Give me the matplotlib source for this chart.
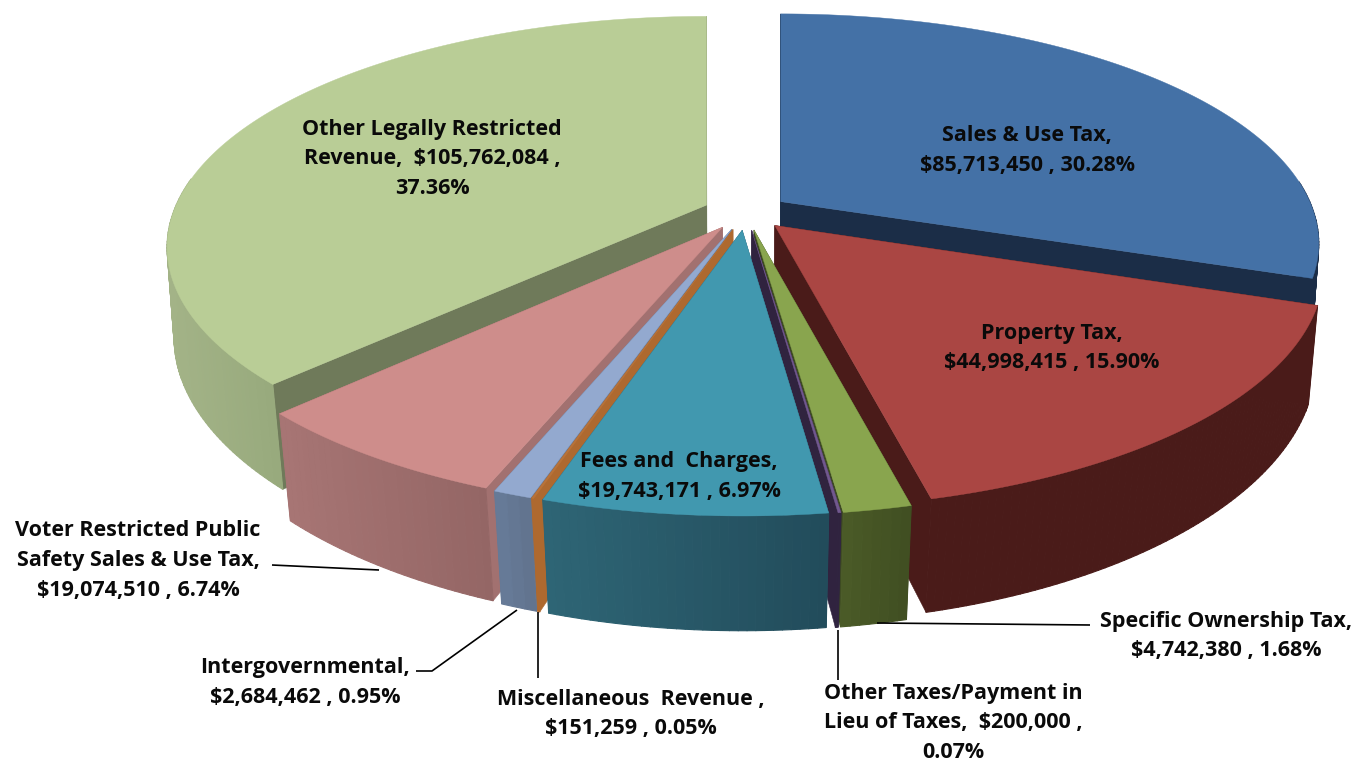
import numpy as np
import matplotlib
matplotlib.use("Agg")
import matplotlib.pyplot as plt
from matplotlib.collections import PolyCollection
from matplotlib.colors import to_rgb

categories = ["Sales & Use Tax", "Property Tax", "Specific Ownership Tax",
              "Other Taxes/Payment in Lieu of Taxes", "Fees and Charges",
              "Miscellaneous Revenue", "Intergovernmental",
              "Voter Restricted Public Safety Sales & Use Tax",
              "Other Legally Restricted Revenue"]
amounts = [85713450, 44998415, 4742380, 200000, 19743171,
           151259, 2684462, 19074510, 105762084]
label_lines = [
    ["Sales & Use Tax,", "$85,713,450 , 30.28%"],
    ["Property Tax,", "$44,998,415 , 15.90%"],
    ["Specific Ownership Tax,", "$4,742,380 , 1.68%"],
    ["Other Taxes/Payment in", "Lieu of Taxes,  $200,000 ,", "0.07%"],
    ["Fees and  Charges,", "$19,743,171 , 6.97%"],
    ["Miscellaneous  Revenue ,", "$151,259 , 0.05%"],
    ["Intergovernmental,", "$2,684,462 , 0.95%"],
    ["Voter Restricted Public", "Safety Sales & Use Tax,", "$19,074,510 , 6.74%"],
    ["Other Legally Restricted", "Revenue,  $105,762,084 ,", "37.36%"],
]
label_pos = [(1027, 136), (1052, 333), (1226, 621), (953, 693), (679, 462),
             (631, 699), (305, 668), (138, 531), (432, 129)]
leaders = [None, None, [(877, 623), (1090, 625)], [(838, 630), (838, 680)], None,
           [(538, 612), (538, 678)], [(416, 671), (432, 671), (517, 610)],
           [(272, 565), (379, 570)], None]

top_colors = ["#4471a6", "#aa4643", "#89a54e", "#71588f", "#4198af",
              "#b8733a", "#93a9cf", "#ce8d8b", "#b9cd96"]
rim_left = ["#1b2d47", "#4a1b19", "#4a5a27", "#302440", "#2e6575",
            "#ae692f", "#667a97", "#a77574", "#a3b387"]
rim_right = ["#1b2d47", "#4a1b19", "#414f22", "#302440", "#224c5b",
             "#ae692f", "#62748f", "#946665", "#98aa7d"]
cut_colors = ["#1b2d47", "#4a1b19", "#3d4a22", "#30233f", "#2a5f6f",
              "#ae692f", "#667a97", "#a27170", "#6f7a5a"]
paint_order = [8, 0, 1, 7, 6, 5, 2, 3, 4]

CX, CY, RX, RY, K, EXPLODE, DEPTH = 746, 212, 533.5, 225.7, 0.1837, 0.08, 92


def project(u, v, du, dv, lower=False):
    """Perspective projection of a point on the disc, shifted by the explode offset."""
    vv = v + dv
    w = 1 - K * vv
    sx = RX * u / w + RX * du
    sy = RY * vv / w
    if lower:
        sx *= 0.99 - 0.08 * (1 / w - 1)
        sy += DEPTH / w
    return CX + sx, CY + sy


fig = plt.figure(figsize=(13.59, 7.61), dpi=100)
ax = fig.add_axes([0, 0, 1, 1])
ax.set_xlim(0, 1359)
ax.set_ylim(761, 0)
ax.axis("off")

edges = np.concatenate([[0], np.cumsum(amounts)]) / np.sum(amounts) * 2 * np.pi

for order, i in enumerate(paint_order):
    z = 1 + order
    a0, a1 = edges[i], edges[i + 1]
    mid = (a0 + a1) / 2
    du, dv = EXPLODE * np.sin(mid), -EXPLODE * np.cos(mid)
    t = np.linspace(a0, a1, max(3, int(np.degrees(a1 - a0) / 0.75)))
    u = np.sin(t)
    v = -np.cos(t)
    xt, yt = project(u, v, du, dv)
    xb, yb = project(u, v, du, dv, lower=True)
    ax_t, ay_t = project(0.0, 0.0, du, dv)
    ax_b, ay_b = project(0.0, 0.0, du, dv, lower=True)
    # radial cut faces
    for k in (0, -1):
        ax.fill([ax_t, xt[k], xb[k], ax_b], [ay_t, yt[k], yb[k], ay_b],
                fc=cut_colors[i], ec=cut_colors[i], lw=0.4, zorder=z)
    # rim, shaded along the screen x; the far side of the disc stays hidden
    keep = [j for j in range(len(t) - 1) if v[j] + dv > -0.15]
    quads = [[(xt[j], yt[j]), (xt[j + 1], yt[j + 1]), (xb[j + 1], yb[j + 1]), (xb[j], yb[j])]
             for j in keep]
    cl, cr = np.array(to_rgb(rim_left[i])), np.array(to_rgb(rim_right[i]))
    mids = np.array([(xt[j] + xt[j + 1]) / 2 for j in keep])
    lo, hi = mids.min(), mids.max()
    fr = np.clip((mids - lo) / max(hi - lo, 1e-6), 0, 1)
    cols = [tuple(cl + (cr - cl) * f) for f in fr]
    ax.add_collection(PolyCollection(quads, facecolors=cols, edgecolors=cols,
                                     linewidths=0.8, zorder=z + 0.1))
    # top surface
    ax.fill(np.r_[ax_t, xt], np.r_[ay_t, yt], fc=top_colors[i], ec=top_colors[i],
            lw=0.3, zorder=z + 0.2)

for seg in leaders:
    if seg:
        ax.plot([p[0] for p in seg], [p[1] for p in seg], color="black", lw=1.2, zorder=20,
                solid_capstyle="butt")

for lines, (x, y) in zip(label_lines, label_pos):
    for j, line in enumerate(lines):
        ax.text(x, y + j * 29.7, line, ha="center", va="center", fontsize=15.5,
                fontfamily="Open Sans", fontweight="bold", color="#0a0a0a", zorder=30)

fig.savefig("out.png", dpi=100)
